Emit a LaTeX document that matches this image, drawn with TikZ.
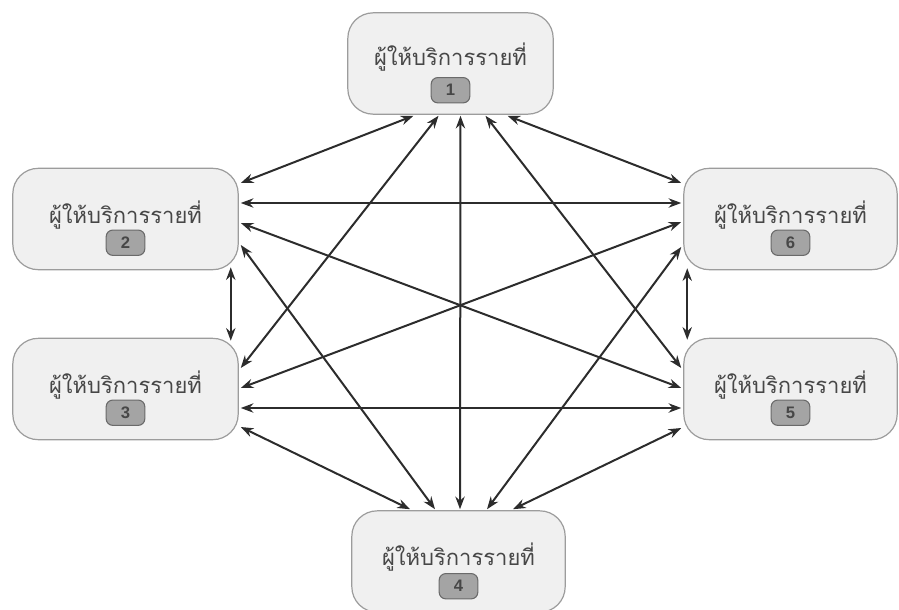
\documentclass[tikz,border=0pt]{standalone}
\usepackage{fontspec}
\newfontfamily\thaifont[Script=Thai]{Loma}
\setsansfont{Liberation Sans}
\usetikzlibrary{calc}
\usetikzlibrary{arrows.meta}

\definecolor{boxfill}{HTML}{F0F0F0}
\definecolor{boxline}{HTML}{9C9C9C}
\definecolor{numfill}{HTML}{A4A4A4}
\definecolor{numline}{HTML}{6A6A6A}
\definecolor{textcol}{HTML}{474747}
\definecolor{linkcol}{HTML}{2C2C2C}

\newcommand{\provname}{ผู้ให้บริการรายที่}

\begin{document}
\begin{tikzpicture}[%
  x=0.75pt, y=-0.75pt,
  >={Stealth[length=9.5pt,width=7pt]},
  provider/.style={draw=boxline, fill=boxfill, line width=0.9pt,
    rounded corners=19pt, minimum height=76pt, minimum width=160pt},
  provtext/.style={text=textcol, font=\thaifont\fontsize{16.5}{18}\selectfont, inner sep=0pt},
  numbox/.style={draw=numline, fill=numfill, line width=0.8pt, rounded corners=5pt,
    minimum width=29pt, minimum height=19pt, inner sep=0pt,
    text=textcol, font=\sffamily\bfseries\fontsize{12.5}{12.5}\selectfont},
  link/.style={draw=linkcol, line width=1.5pt, <->},
]

  \useasboundingbox (0,0) rectangle (899,610);

  \node[provider, minimum width=154pt] (n1) at (450.5,63.5) {};
  \node[provtext] (t1) at ($(n1.north)+(0,45)$) {\provname};
  \node[numbox] (b1) at ($(n1.north)+(0,78)$) {1};

  \node[provider, minimum width=169pt] (n2) at (125.5,219) {};
  \node[provtext] (t2) at ($(n2.north)+(0,47)$) {\provname};
  \node[numbox] (b2) at ($(n2.north)+(0,75)$) {2};

  \node[provider, minimum width=169pt] (n3) at (125.5,389) {};
  \node[provtext] (t3) at ($(n3.north)+(0,47)$) {\provname};
  \node[numbox] (b3) at ($(n3.north)+(0,75)$) {3};

  \node[provider] (n4) at (458.5,561.5) {};
  \node[provtext] (t4) at ($(n4.north)+(0,47)$) {\provname};
  \node[numbox] (b4) at ($(n4.north)+(0,76)$) {4};

  \node[provider] (n5) at (790.5,389) {};
  \node[provtext] (t5) at ($(n5.north)+(0,47)$) {\provname};
  \node[numbox] (b5) at ($(n5.north)+(0,75)$) {5};

  \node[provider] (n6) at (790.5,219) {};
  \node[provtext] (t6) at ($(n6.north)+(0,47)$) {\provname};
  \node[numbox] (b6) at ($(n6.north)+(0,75)$) {6};

  \draw[link] ($(n1.south)+(-37,1)$) -- ($(n2.east)+(2,-36)$);
  \draw[link] ($(n1.south)+(-12,1)$) -- ($(n3.east)+(2,-21)$);
  \draw[link] ($(n1.south)+(10,1)$) -- ($(n4.north)+(1.5,-1)$);
  \draw[link] ($(n1.south)+(35,1)$) -- ($(n5.west)+(-2,-21)$);
  \draw[link] ($(n1.south)+(57,1)$) -- ($(n6.west)+(-2,-36)$);

  \draw[link] ($(n2.south east)+(-8,-3)$) -- ($(n3.north east)+(-8,3)$);
  \draw[link] ($(n2.east)+(2,26)$) -- ($(n4.north)+(-23.5,-1)$);
  \draw[link] ($(n2.east)+(2,4)$) -- ($(n5.west)+(-2,-1)$);
  \draw[link] ($(n2.east)+(2,-16)$) -- ($(n6.west)+(-2,-16)$);

  \draw[link] ($(n3.east)+(2,38)$) -- ($(n4.north)+(-48.5,-1)$);
  \draw[link] ($(n3.east)+(2,19)$) -- ($(n5.west)+(-2,19)$);
  \draw[link] ($(n3.east)+(2,-1)$) -- ($(n6.west)+(-2,3)$);

  \draw[link] ($(n4.north)+(54.5,-1)$) -- ($(n5.west)+(-2,39)$);
  \draw[link] ($(n4.north)+(28.5,-1)$) -- ($(n6.west)+(-2,28)$);

  \draw[link] ($(n6.south west)+(4,-2)$) -- ($(n5.north west)+(4,2)$);

\end{tikzpicture}
\end{document}
